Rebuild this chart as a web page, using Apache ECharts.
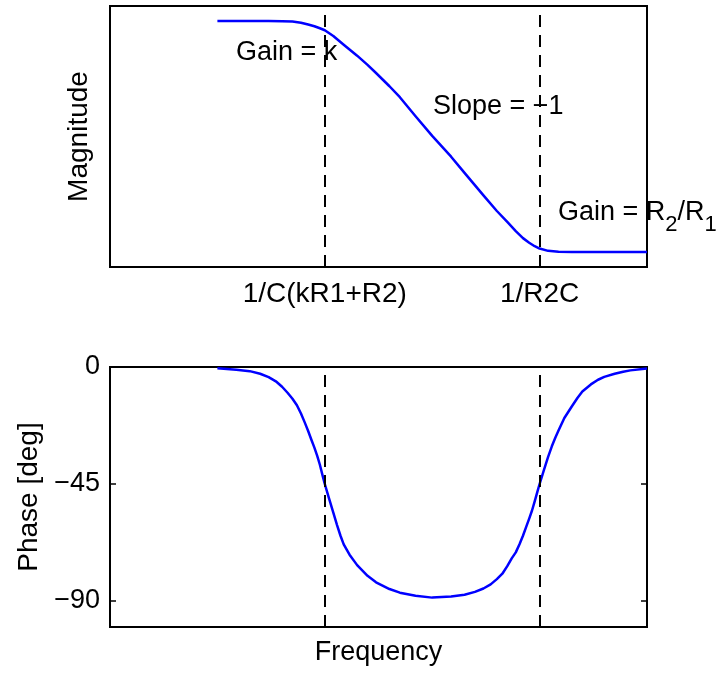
<!DOCTYPE html>
<html>
<head>
<meta charset="utf-8">
<script src="https://cdn.jsdelivr.net/npm/echarts@6/dist/echarts.min.js"></script>
<style>
    html, body { margin: 0; padding: 0; background: #fff; }
    #chart { width: 719px; height: 673px; }
</style>
</head>
<body>
<div id="chart"></div>
<script>
    // magnitude curve (dB)
    var magFreq = [10, 30, 40, 50, 60, 70, 80, 90, 100, 120, 150, 200, 250, 300, 400, 500, 700, 1000, 1500, 2000, 3000, 4000, 5000, 6000, 7000, 8000, 9000, 10000, 12000, 15000, 20000, 50000, 100000];
    var magDb = [0, 0, -0.02, -0.1, -0.3, -0.6, -0.9, -1.25, -1.6, -2.6, -4.1, -6.0, -7.6, -9.0, -11.3, -13.2, -16.5, -19.9, -23.5, -26.3, -30.2, -32.9, -34.8, -36.4, -37.6, -38.4, -39.0, -39.4, -39.8, -39.95, -40, -40, -40];

    // phase curve (deg)
    var phaseFreq = [10, 15, 20, 25, 30, 35, 40, 45, 50, 55, 60, 65, 70, 75, 80, 85, 90, 95, 100, 110, 120, 130, 140, 150, 170, 200, 250, 300, 400, 500, 700, 1000,
        1500, 2000, 2500, 3000, 3500, 4000, 4500, 5000, 5500, 6000, 6500, 7000, 7500, 8000, 8500, 9000, 9500, 10000, 11000, 12000, 13000, 14000, 15000, 17000, 20000, 22500, 25000, 30000, 35000, 40000, 50000, 60000, 70000, 100000];
    var phaseDeg = [-0.5, -1.1, -1.6, -2.6, -3.9, -5.5, -7.6, -9.9, -12.2, -14.7, -17.9, -21.3, -24.6, -28.0, -31.0, -34.2, -37.6, -41.5, -45, -50.8, -56, -60.8, -64.9, -68.2, -72.2, -76.2, -80.3, -82.8, -85.4, -86.8, -88.0, -88.7,
        -88.3, -87.6, -86.5, -85.2, -83.6, -81.6, -79.5, -76.6, -73.6, -71.3, -68.2, -64.9, -61.5, -58.3, -55.2, -51.7, -48.2, -45, -39.5, -34.6, -30.5, -27.2, -24.4, -19.6, -15.1, -11.9, -9.4, -6.7, -4.9, -3.8, -2.6, -1.8, -1.3, -0.6];

    // corner frequencies (dashed lines) and their labels
    var cornerFreq = [100, 10000];
    var cornerLabels = ['1/C(kR1+R2)', '1/R2C'];
    var phaseTicks = [0, -45, -90];

    var FONT = 'Liberation Sans, Arial, Helvetica, sans-serif';
    var BLUE = '#0000ff';
    var NOTE_SIZE = 27;
    var SUB_SIZE = 22;

    function zip(xs, ys) {
        var out = [];
        for (var i = 0; i < xs.length; i++) {
            out.push([xs[i], ys[i]]);
        }
        return out;
    }

    function cornerLabel(v) {
        var idx = cornerFreq.indexOf(Math.round(v));
        return idx >= 0 ? cornerLabels[idx] : '';
    }

    // text width, used to lay out the subscripted note piece by piece
    var measureCtx = document.createElement('canvas').getContext('2d');
    function textWidth(str, size) {
        measureCtx.font = size + 'px ' + FONT;
        return measureCtx.measureText(str).width;
    }

    // "Gain = R_2/R_1": normal text sits on one baseline, subscripts lower
    function subNote(parts, left, top) {
        var items = [];
        var x = left;
        parts.forEach(function (p) {
            var size = p.sub ? SUB_SIZE : NOTE_SIZE;
            items.push({
                type: 'text', left: x, top: p.sub ? top + 15 : top,
                style: { text: p.t, font: size + 'px ' + FONT, fill: '#000' }
            });
            x += textWidth(p.t, size);
        });
        return items;
    }

    var dashLines = {
        silent: true,
        symbol: 'none',
        label: { show: false },
        lineStyle: { color: '#000', width: 2, type: [12, 8] },
        data: cornerFreq.map(function (f) { return { xAxis: f }; })
    };

    var notes = [
        { type: 'text', left: 236, top: 39, style: { text: 'Gain = k', font: NOTE_SIZE + 'px ' + FONT, fill: '#000' } },
        { type: 'text', left: 433, top: 93, style: { text: 'Slope = \u22121', font: NOTE_SIZE + 'px ' + FONT, fill: '#000' } }
    ].concat(subNote([
        { t: 'Gain = R' }, { t: '2', sub: true }, { t: '/R' }, { t: '1', sub: true }
    ], 558, 199));

    var myChart = echarts.init(document.getElementById('chart'));
    myChart.setOption({
        animation: false,
        backgroundColor: '#fff',
        textStyle: { fontFamily: FONT, color: '#000' },
        grid: [
            { left: 110, top: 6, right: 72, height: 261, show: true, borderColor: '#000', borderWidth: 2, backgroundColor: 'transparent' },
            { left: 110, top: 367, right: 72, height: 260, show: true, borderColor: '#000', borderWidth: 2, backgroundColor: 'transparent' }
        ],
        xAxis: [
            {
                gridIndex: 0, type: 'log', logBase: 10, min: 1, max: 100000,
                axisLine: { show: false }, axisTick: { show: false }, splitLine: { show: false },
                axisLabel: { fontSize: 28, color: '#000', fontFamily: FONT, margin: 13, formatter: cornerLabel }
            },
            {
                gridIndex: 1, type: 'log', logBase: 10, min: 1, max: 100000,
                axisLine: { show: false }, axisTick: { show: false }, splitLine: { show: false },
                axisLabel: { show: false },
                name: 'Frequency', nameLocation: 'middle', nameGap: 12,
                nameTextStyle: { fontSize: 27, color: '#000', fontFamily: FONT, verticalAlign: 'top' }
            }
        ],
        yAxis: [
            {
                gridIndex: 0, type: 'value', min: -42.6, max: 2.6,
                axisLine: { show: false }, axisTick: { show: false }, splitLine: { show: false },
                axisLabel: { show: false },
                name: 'Magnitude', nameLocation: 'middle', nameRotate: 90, nameGap: 17,
                nameTextStyle: { fontSize: 28, color: '#000', fontFamily: FONT }
            },
            {
                gridIndex: 1, type: 'value', min: -100, max: 0,
                axisLine: { show: false }, splitLine: { show: false },
                axisTick: { inside: true, length: 6, customValues: phaseTicks, lineStyle: { color: '#000', width: 1.5 } },
                axisLabel: {
                    fontSize: 27, color: '#000', fontFamily: FONT, margin: 10,
                    customValues: phaseTicks,
                    formatter: function (v) { return v < 0 ? '\u2212' + Math.abs(v) : String(v); }
                },
                name: 'Phase [deg]', nameLocation: 'middle', nameRotate: 90, nameGap: 62,
                nameTextStyle: { fontSize: 28, color: '#000', fontFamily: FONT }
            },
            {
                gridIndex: 1, type: 'value', min: -100, max: 0, position: 'right',
                axisLine: { show: false }, splitLine: { show: false },
                axisTick: { inside: true, length: 6, customValues: phaseTicks, lineStyle: { color: '#000', width: 1.5 } },
                axisLabel: { show: false }
            }
        ],
        series: [
            {
                name: 'magnitude', type: 'line', xAxisIndex: 0, yAxisIndex: 0,
                data: zip(magFreq, magDb),
                showSymbol: false, smooth: false,
                lineStyle: { color: BLUE, width: 2.5, join: 'round' },
                markLine: dashLines
            },
            {
                name: 'phase', type: 'line', xAxisIndex: 1, yAxisIndex: 1,
                data: zip(phaseFreq, phaseDeg),
                showSymbol: false, smooth: false,
                lineStyle: { color: BLUE, width: 2.5, join: 'round' },
                markLine: dashLines
            }
        ],
        // annotations in the magnitude panel
        graphic: notes
    });
</script>
</body>
</html>
